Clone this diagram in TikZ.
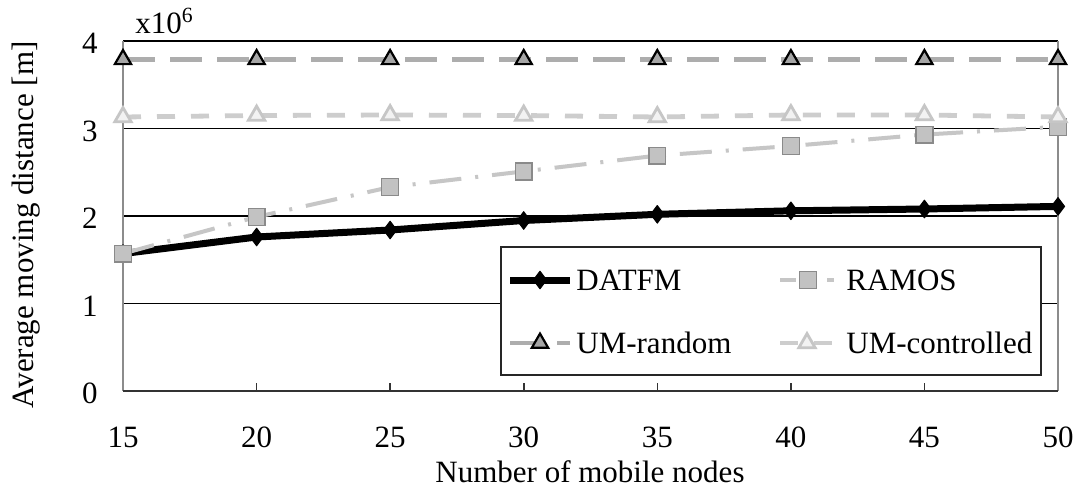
\documentclass[tikz,border=0pt]{standalone}
\usepackage{fontspec}
\setmainfont{Liberation Serif}
\usetikzlibrary{plotmarks}

\definecolor{ramosline}{HTML}{C6C6C6}
\definecolor{ramosfill}{HTML}{C2C2C2}
\definecolor{ramosedge}{HTML}{8A8A8A}
\definecolor{randline}{HTML}{ADADAD}
\definecolor{randfill}{HTML}{A6A6A6}
\definecolor{ctrlline}{HTML}{CDCDCD}
\definecolor{ctrledge}{HTML}{C6C6C6}
\definecolor{ctrlfill}{HTML}{F2F2F2}
\definecolor{axisgray}{HTML}{8C8C8C}

\tikzset{
  gridline/.style={black, line width=0.75pt},
  frameside/.style={axisgray, line width=0.8pt},
  seriesDATFM/.style={black, line width=3.5pt, line join=round,
    mark=diamond*, mark size=4.4pt,
    mark options={solid, draw=black, fill=black, line width=0.5pt}},
  seriesRAMOS/.style={ramosline, line width=2pt,
    dash pattern=on 16pt off 7pt on 1.5pt off 7pt,
    mark=square*, mark size=4.2pt,
    mark options={solid, draw=ramosedge, fill=ramosfill, line width=0.7pt}},
  seriesRandom/.style={randline, line width=2.4pt,
    dash pattern=on 16pt off 7.5pt,
    mark=triangle*, mark size=4.7pt,
    mark options={solid, draw=black, fill=randfill, line width=1.1pt}},
  seriesCtrl/.style={ctrlline, line width=2.4pt,
    dash pattern=on 9pt off 8pt,
    mark=triangle*, mark size=4.7pt,
    mark options={solid, draw=ctrledge, fill=ctrlfill, line width=1.4pt}},
  ticklabel/.style={inner sep=0pt},
  legendtext/.style={anchor=base west, inner sep=0pt}
}

\begin{document}
\begin{tikzpicture}[x=0.5pt, y=-0.5pt, font=\fontsize{15.5}{18}\selectfont]
\useasboundingbox (0,0) rectangle (1077,487);
\fill[white] (0,0) rectangle (1077,487);

% horizontal grid lines (the one at 4 closes the frame on top)
\foreach \g in {303.5,216,128.5,41}
  \draw[gridline] (123,\g) -- (1058,\g);

% frame sides and bottom axis with ticks
\draw[frameside] (123,41) -- (123,391);
\draw[frameside] (1058,41) -- (1058,391);
\draw[black!80, line width=0.8pt] (123,391) -- (1058,391);
\foreach \x in {256.6,390.1,523.7,657.3,790.9,924.4}
  \draw[black!80, line width=0.8pt] (\x,391) -- (\x,383);

% axis labels
\foreach \n/\x in {15/123,20/256.6,25/390.1,30/523.7,35/657.3,40/790.9,45/924.4,50/1058}
  \node[ticklabel, anchor=base] (xt\n) at (\x,447) {\n};
\foreach \v/\y in {0/391,1/303.5,2/216,3/128.5,4/41}
  \node[ticklabel, anchor=base east] (yt\v) at (98,\y+12.5) {\v};
\node[ticklabel, anchor=base west] (scale) at (135,33) {x10\textsuperscript{6}};
\node[ticklabel, anchor=base] (xlabel) at (590,482) {Number of mobile nodes};
\node[ticklabel, anchor=base, rotate=90] (ylabel) at (33,225) {Average moving distance [m]};

% data series
\draw[seriesDATFM] plot coordinates {(123,253.6) (256.6,237) (390.1,230) (523.7,220.5)
  (657.3,214.3) (790.9,210.8) (924.4,209) (1058,206.4)};
\draw[seriesRAMOS] plot coordinates {(123,253.6) (256.6,216.9) (390.1,187.1) (523.7,171.4)
  (657.3,155.6) (790.9,146) (924.4,134.6) (1058,126.8)};
\draw[seriesRandom] plot coordinates {(123,59.4) (256.6,59.4) (390.1,59.4) (523.7,59.4)
  (657.3,59.4) (790.9,59.4) (924.4,59.4) (1058,59.4)};
\draw[seriesCtrl] plot coordinates {(123,117) (256.6,115.5) (390.1,115) (523.7,115.5)
  (657.3,117) (790.9,115) (924.4,115) (1058,117)};

% legend
\node[draw=black!85, fill=white, line width=0.75pt, inner sep=0pt,
      minimum width=270pt, minimum height=64pt] (legend) at (771,311) {};
\draw[seriesDATFM, mark indices={2}] plot coordinates {(510,280) (540,280) (570,280)};
\node[legendtext] (lgDATFM) at (576,290) {DATFM};
\draw[seriesRAMOS, dash phase=8pt, mark indices={2}] plot coordinates {(780,280) (808,280) (834,280)};
\node[legendtext] (lgRAMOS) at (846,290) {RAMOS};
\draw[seriesRandom, mark indices={2}] plot coordinates {(510,343) (540,343) (570,343)};
\node[legendtext] (lgRandom) at (576,353) {UM-random};
\draw[seriesCtrl, mark indices={2}] plot coordinates {(780,343) (807,343) (834,343)};
\node[legendtext] (lgCtrl) at (846,353) {UM-controlled};
\end{tikzpicture}
\end{document}
